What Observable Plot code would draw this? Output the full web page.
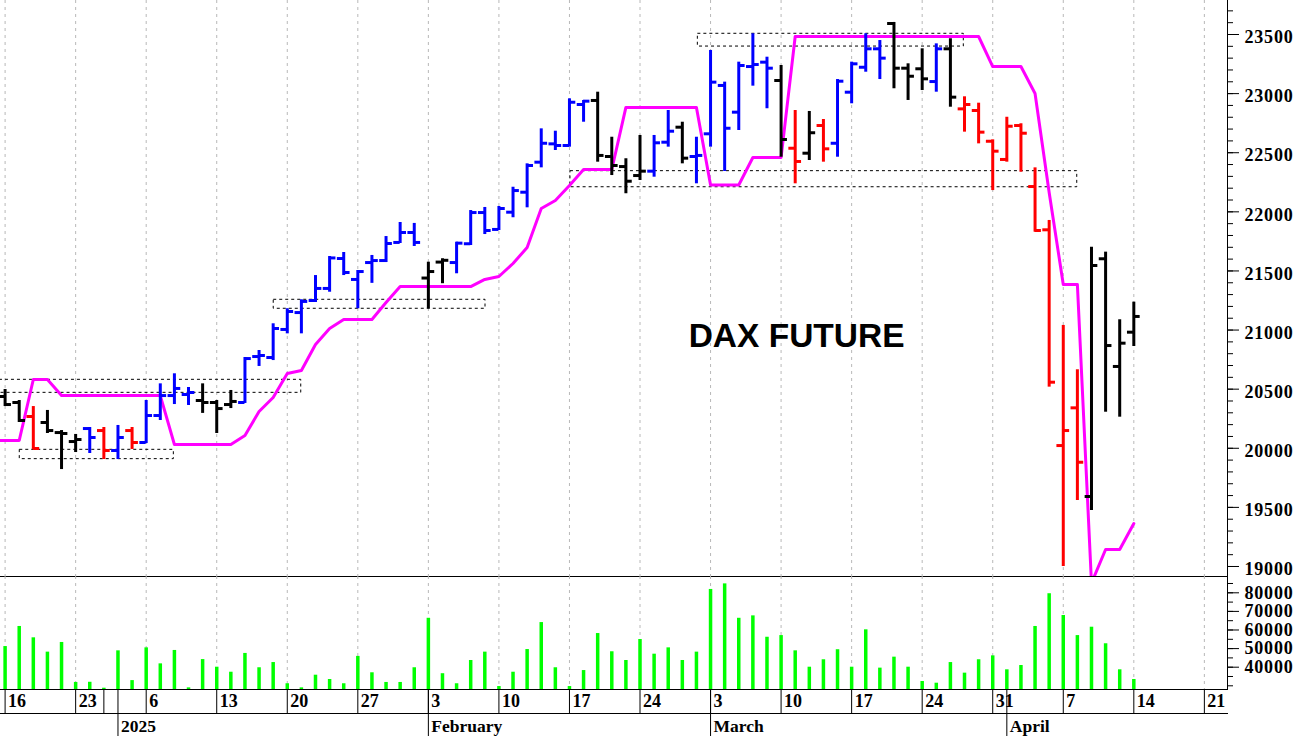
<!DOCTYPE html>
<html><head><meta charset="utf-8">
<script src="https://cdn.jsdelivr.net/npm/d3@7"></script>
<script src="https://cdn.jsdelivr.net/npm/@observablehq/plot@0.6"></script>
<style>
html,body{margin:0;padding:0;background:#fff;}
#chart{width:1298px;height:736px;position:relative;overflow:hidden;background:#fff;}
#chart svg{display:block;}
g[aria-label="y-axis tick label"] text, g[aria-label="wk"] text{letter-spacing:0.8px;}
</style></head>
<body><div id="chart"></div>
<script>
// ---- trading days (x position = index in this list) ----
const dates = ["2024-12-16","2024-12-17","2024-12-18","2024-12-19","2024-12-20","2024-12-23","2024-12-27","2024-12-30",
"2025-01-02","2025-01-03","2025-01-06","2025-01-07","2025-01-08","2025-01-09","2025-01-10","2025-01-13","2025-01-14","2025-01-15","2025-01-16","2025-01-17",
"2025-01-20","2025-01-21","2025-01-22","2025-01-23","2025-01-24","2025-01-27","2025-01-28","2025-01-29","2025-01-30","2025-01-31",
"2025-02-03","2025-02-04","2025-02-05","2025-02-06","2025-02-07","2025-02-10","2025-02-11","2025-02-12","2025-02-13","2025-02-14",
"2025-02-17","2025-02-18","2025-02-19","2025-02-20","2025-02-21","2025-02-24","2025-02-25","2025-02-26","2025-02-27","2025-02-28",
"2025-03-03","2025-03-04","2025-03-05","2025-03-06","2025-03-07","2025-03-10","2025-03-11","2025-03-12","2025-03-13","2025-03-14",
"2025-03-17","2025-03-18","2025-03-19","2025-03-20","2025-03-21","2025-03-24","2025-03-25","2025-03-26","2025-03-27","2025-03-28",
"2025-03-31","2025-04-01","2025-04-02","2025-04-03","2025-04-04","2025-04-07","2025-04-08","2025-04-09","2025-04-10","2025-04-11","2025-04-14"];

const open = [20438,20387,20269,20218,20133,20057,20167,20150,19981,20150,
20049,20277,20446,20455,20404,20387,20370,20387,20776,20768,
21005,21148,21250,21352,21605,21428,21571,21588,21741,21825,
21440,21575,21571,21730,21994,21851,21997,22166,22420,22575,
22561,22908,22942,22468,22383,22307,22344,22589,22716,22468,
22660,23069,22843,23229,23266,23111,22538,22496,22730,22580,
23012,23223,23379,23593,23215,23210,23102,23379,22871,22857,
22597,22443,22730,22214,21848,20023,20342,19592,21603,20692,20982];

const high = [20497,20404,20353,20320,20150,20117,20176,20176,20193,20176,
20404,20545,20630,20514,20545,20404,20489,20768,20827,21053,
21180,21256,21461,21622,21656,21504,21631,21791,21910,21902,
21574,21603,21743,22011,22037,22045,22208,22406,22702,22682,
22956,22942,23012,22631,22449,22646,22646,22857,22758,22631,
23365,23097,23266,23506,23308,23238,22857,22849,22781,23119,
23266,23506,23449,23602,23252,23379,23421,23464,22973,22919,
22609,22800,22745,22372,21927,21039,20664,21701,21659,21087,21236];

const low = [20353,20218,19990,20125,19820,19964,19956,19905,19905,19990,
20040,20235,20370,20362,20295,20125,20336,20379,20692,20742,
20968,20968,21233,21320,21461,21180,21395,21571,21732,21707,
21180,21392,21476,21715,21808,21842,21950,22034,22372,22519,
22547,22758,22420,22307,22153,22265,22293,22547,22406,22237,
22547,22341,22688,23063,22872,22462,22237,22434,22420,22462,
22914,23181,23119,23041,22942,23026,23012,22885,22674,22575,
22180,22420,22335,21828,20517,19000,19558,19474,20305,20263,20861];

const close = [20370,20235,19998,20150,20125,20074,20091,19981,20091,20049,
20277,20446,20506,20472,20387,20336,20396,20759,20785,21013,
21157,21242,21352,21610,21487,21495,21588,21732,21825,21741,
21495,21590,21735,21994,21842,22028,22180,22392,22580,22561,
22927,22936,22477,22392,22259,22344,22584,22682,22454,22477,
23097,22707,23238,23246,23215,22612,22426,22669,22533,23105,
23252,23379,23300,23215,23147,23125,23379,22970,22908,22674,
22513,22724,22665,21842,20559,20150,19882,21546,20869,20889,21115];

// trend state per bar: b = up (blue), k = neutral (black), r = down (red)
const trend = ["k","k","r","k","k","k","b","r","b","r",
"b","b","b","b","k","k","k","b","b","b",
"b","b","b","b","b","b","b","b","b","b",
"k","k","b","b","b","b","b","b","b","b",
"b","b","k","k","k","k","b","b","k","b",
"b","b","b","b","b","k","r","k","r","b",
"b","b","b","k","k","k","b","k","r","r",
"r","r","r","r","r","r","r","k","k","k","k"];

const volume = [51100,61900,55800,48100,53300,31800,31900,28700,48800,32800,
50400,41800,49000,28900,44100,40000,37300,47400,39700,42500,
31100,28900,35700,33400,31100,45800,37000,31800,31800,39700,
66300,36500,31100,43600,48100,29600,37300,49500,64000,39700,
29600,38200,58100,48300,43600,54900,47000,50400,43600,48100,
81800,84800,66300,67600,56100,57000,48800,40000,44000,49400,
40000,60100,39500,45400,40000,32300,31400,42500,36800,44000,
46100,38600,40900,61900,79500,67800,57000,61500,52600,38600,33400];

// magenta trailing line, starting one session earlier (2024-12-13 = index -1)
const stopStart = -1;
const stopLine = [20066,20066,20066,20582,20582,20446,20446,20446,20446,20446,20446,20446,20446,
20032,20032,20032,20032,20032,20108,20311,20430,20632,20658,20878,21013,21089,21089,21089,21233,
21368,21368,21368,21368,21368,21368,21428,21453,21563,21698,22028,22096,22223,22358,22358,22358,
22883,22883,22883,22883,22883,22883,22227,22227,22227,22460,22460,22460,
23483,23483,23483,23483,23483,23483,23483,23483,23483,23483,23483,23483,23483,23483,
23229,23229,23229,23001,22164,21385,21385,18860,19144,19144,19364];

// dashed support / resistance zones (in session index units and price)
const zoneStart = [-0.4, 1.04, 19.04, 40.07, 49.1];
const zoneEnd   = [20.99, 11.96, 34.05, 75.99, 67.95];
const zoneLow   = [20469, 19908, 21180, 22208, 23398];
const zoneHigh  = [20579, 19987, 21256, 22344, 23506];

// axes
const priceTicks = [19000,19500,20000,20500,21000,21500,22000,22500,23000,23500];
const priceMinorTicks = [19000,19100,19200,19300,19400,19500,19600,19700,19800,19900,20000,20100,20200,20300,20400,20500,20600,20700,20800,20900,21000,21100,21200,21300,21400,21500,21600,21700,21800,21900,22000,22100,22200,22300,22400,22500,22600,22700,22800,22900,23000,23100,23200,23300,23400,23500,23600,23700];
const volTicks = [40000,50000,60000,70000,80000];
const volMinorTicks = [30000,35000,40000,45000,50000,55000,60000,65000,70000,75000,80000,85000];
const weekTickPos = [0,5,7,10,15,20,25,30,35,40,45,50,55,60,65,70,75,80,85];
const weekTickLabels = ["16","23","","6","13","20","27","3","10","17","24","3","10","17","24","31","7","14","21"];
const gridPos = [0,5,10,15,20,25,30,35,40,45,50,55,60,65,70,75,80,85];
const monthPos = [8,30,50,71];
const monthLabels = ["2025","February","March","April"];
const annotation = [{label:"DAX FUTURE", x:56.1, y:20950}];

// ---- build tables ----
const palette = {b:"#0000ff", k:"#000000", r:"#ff0000"};
const bars = dates.map((d,i)=>({date:d, i, open:open[i], high:high[i], low:low[i], close:close[i], color:palette[trend[i]], vol:volume[i]}));
const stop = stopLine.map((v,k)=>({i:stopStart+k, v}));
const zones = zoneStart.map((s,k)=>({start:s, end:zoneEnd[k], low:zoneLow[k], high:zoneHigh[k]}));
const weeks = weekTickPos.map((p,k)=>({pos:p, label:weekTickLabels[k]}));
const months = monthPos.map((p,k)=>({pos:p, label:monthLabels[k]}));

const X_DOMAIN = [-0.326, 86.64];
const PRICE_DOMAIN = [18915.4, 23787.6];
const VOL_DOMAIN = [28010, 88763];
const TICK = 0.45;
const SERIF = "'Liberation Serif','Times New Roman',serif";
const grid = {x:d=>d, stroke:"#b8b8b8", strokeDasharray:"3,4", strokeWidth:1};

const pricePlot = Plot.plot({
  width:1298, height:576, marginLeft:0, marginRight:71, marginTop:0, marginBottom:0,
  x:{domain:X_DOMAIN, axis:null},
  y:{domain:PRICE_DOMAIN},
  color:{type:"identity"},
  style:{background:"white", overflow:"visible"},
  marks:[
    Plot.ruleX(gridPos, grid),
    Plot.rect(zones, {x1:"start", x2:"end", y1:"low", y2:"high", fill:"none", stroke:"black", strokeDasharray:"3,3", strokeWidth:1}),
    Plot.line(stop, {x:"i", y:"v", stroke:"#ff00ff", strokeWidth:3, clip:true}),
    Plot.ruleX(bars, {x:"i", y1:"low", y2:"high", stroke:"color", strokeWidth:3}),
    Plot.ruleY(bars, {y:"open", x1:d=>d.i-TICK, x2:"i", stroke:"color", strokeWidth:3}),
    Plot.ruleY(bars, {y:"close", x1:"i", x2:d=>d.i+TICK, stroke:"color", strokeWidth:3}),
    Plot.text(annotation, {x:"x", y:"y", text:"label", textAnchor:"middle", lineAnchor:"middle", fontSize:33.5, fontWeight:"bold", fontFamily:"'Liberation Sans',Arial,sans-serif", fill:"black"}),
    Plot.frame({anchor:"bottom"}),
    Plot.frame({anchor:"right"}),
    Plot.axisY({ticks:priceMinorTicks, anchor:"right", tickSize:5, tickFormat:()=>"", label:null}),
    Plot.axisY({ticks:priceTicks, anchor:"right", tickSize:11, tickFormat:()=>"", label:null}),
    Plot.axisY({ticks:priceTicks, anchor:"right", tickSize:0, tickPadding:17, dy:3, tickFormat:d=>String(d), label:null, fontSize:18, fontWeight:"bold", fontFamily:SERIF})
  ]
});

const volPlot = Plot.plot({
  width:1298, height:160, marginLeft:0, marginRight:71, marginTop:0, marginBottom:47,
  x:{domain:X_DOMAIN, axis:null},
  y:{domain:VOL_DOMAIN},
  style:{background:"white", overflow:"visible"},
  marks:[
    Plot.ruleX(gridPos, grid),
    Plot.ruleX(bars, {x:"i", y1:()=>VOL_DOMAIN[0], y2:"vol", stroke:"#00ff00", strokeWidth:3.5}),
    Plot.frame({anchor:"bottom"}),
    Plot.frame({anchor:"bottom", insetBottom:-24}),
    Plot.frame({anchor:"right"}),
    Plot.ruleX(weekTickPos, {x:d=>d, insetTop:113, insetBottom:-24, stroke:"black"}),
    Plot.ruleX(monthPos, {x:d=>d, insetTop:113, insetBottom:-47, stroke:"black"}),
    Plot.text(weeks, {x:"pos", text:"label", frameAnchor:"bottom", dy:12, dx:3, textAnchor:"start", lineAnchor:"middle", fontSize:18, fontWeight:"bold", fontFamily:SERIF, fill:"black", ariaLabel:"wk"}),
    Plot.text(months, {x:"pos", text:"label", frameAnchor:"bottom", dy:37, dx:3, textAnchor:"start", lineAnchor:"middle", fontSize:17.5, fontWeight:"bold", fontFamily:SERIF, fill:"black"}),
    Plot.axisY({ticks:volMinorTicks, anchor:"right", tickSize:5, tickFormat:()=>"", label:null}),
    Plot.axisY({ticks:volTicks, anchor:"right", tickSize:11, tickPadding:6, tickFormat:d=>String(d), label:null, fontSize:18, fontWeight:"bold", fontFamily:SERIF})
  ]
});

const root = document.getElementById("chart");
root.appendChild(pricePlot);
root.appendChild(volPlot);
</script>
</body></html>
